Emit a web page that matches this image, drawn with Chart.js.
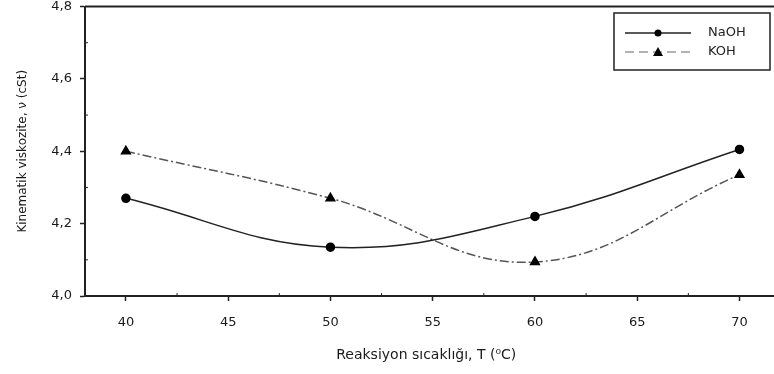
<!DOCTYPE html>
<html lang="tr">
<head>
  <meta charset="UTF-8" />
  <title>Kinematik viskozite</title>
  <script src="https://cdn.jsdelivr.net/npm/chart.js"></script>
  <style>
    html, body { margin: 0; padding: 0; background: #fff; }
    .chart-box { width: 774px; height: 374px; position: relative; }
  </style>
</head>
<body>
  <div class="chart-box">
    <canvas id="viscChart"></canvas>
  </div>

  <script>
    // data
    const temperatures = [40, 50, 60, 70];
    const naohValues = [4.27, 4.135, 4.22, 4.405];
    const kohValues = [4.40, 4.27, 4.094, 4.335];
    const seriesNames = ['NaOH', 'KOH'];
    const xTicks = [40, 45, 50, 55, 60, 65, 70];
    const xTitle = 'Reaksiyon sıcaklığı, T (⁰C)';
    const yTitle = 'Kinematik viskozite, ν (cSt)';

    const FONT = 'DejaVu Sans, Verdana, sans-serif';

    const comma = v => v.toFixed(1).replace('.', ',');

    // top frame line, axis run-out, inward minor ticks and the boxed legend
    const extras = {
      id: 'extras',
      afterDraw(chart) {
        const ctx = chart.ctx;
        const area = chart.chartArea;
        const xs = chart.scales.x, ys = chart.scales.y;
        ctx.save();
        ctx.strokeStyle = '#222';
        ctx.lineWidth = 2;
        ctx.beginPath();
        ctx.moveTo(area.left, area.top);
        ctx.lineTo(chart.width, area.top);
        ctx.moveTo(area.right - 1, area.bottom);
        ctx.lineTo(chart.width, area.bottom);
        ctx.stroke();

        ctx.lineWidth = 1;
        ctx.beginPath();
        for (let v = 42.5; v < 72; v += 5) {
          const px = xs.getPixelForValue(v);
          ctx.moveTo(px, area.bottom + 1);
          ctx.lineTo(px, area.bottom - 3);
        }
        for (let v = 4.1; v < 4.8; v += 0.2) {
          const py = ys.getPixelForValue(v);
          ctx.moveTo(area.left, py);
          ctx.lineTo(area.left + 3, py);
        }
        ctx.stroke();

        // legend
        const bx = 614, by = 13, bw = 156, bh = 57;
        ctx.lineWidth = 1.5;
        ctx.strokeStyle = '#222';
        ctx.strokeRect(bx, by, bw, bh);
        ctx.font = '13px ' + FONT;
        ctx.textBaseline = 'middle';
        chart.data.datasets.forEach((ds, i) => {
          const ly = by + 20 + i * 19;
          ctx.strokeStyle = i === 0 ? '#222' : '#999';
          ctx.lineWidth = ds.borderWidth;
          ctx.setLineDash(i === 0 ? [] : [9, 5]);
          ctx.beginPath();
          ctx.moveTo(bx + 11, ly);
          ctx.lineTo(bx + 77, ly);
          ctx.stroke();
          ctx.setLineDash([]);
          ctx.fillStyle = '#000';
          if (ds.pointStyle === 'triangle') {
            ctx.beginPath();
            ctx.moveTo(bx + 44, ly - 5);
            ctx.lineTo(bx + 49, ly + 4);
            ctx.lineTo(bx + 39, ly + 4);
            ctx.closePath();
            ctx.fill();
          } else {
            ctx.beginPath();
            ctx.arc(bx + 44, ly, 3.5, 0, Math.PI * 2);
            ctx.fill();
          }
          ctx.fillStyle = '#222';
          ctx.fillText(ds.label, bx + 94, ly);
        });
        ctx.restore();
      }
    };

    new Chart(document.getElementById('viscChart'), {
      type: 'line',
      data: {
        datasets: [{
          label: seriesNames[0],
          data: temperatures.map((t, i) => ({ x: t, y: naohValues[i] })),
          borderColor: '#222',
          borderWidth: 1.5,
          pointStyle: 'circle',
          pointRadius: 4,
          pointBackgroundColor: '#000',
          pointBorderColor: '#000',
          tension: 0.4
        }, {
          label: seriesNames[1],
          data: temperatures.map((t, i) => ({ x: t, y: kohValues[i] })),
          borderColor: '#555',
          borderWidth: 1.5,
          borderDash: [9, 3, 2, 3],
          pointStyle: 'triangle',
          pointRadius: 5,
          pointBackgroundColor: '#000',
          pointBorderColor: '#000',
          tension: 0.4
        }]
      },
      options: {
        responsive: true,
        maintainAspectRatio: false,
        animation: false,
        layout: { padding: 0 },
        plugins: { legend: { display: false }, tooltip: { enabled: false } },
        scales: {
          x: {
            type: 'linear',
            min: 38,
            max: 71.37,
            afterBuildTicks: s => { s.ticks = xTicks.map(v => ({ value: v })); },
            afterFit: s => { s.height = 78; s.paddingLeft = 0; s.paddingRight = 0; },
            ticks: { color: '#1a1a1a', font: { family: FONT, size: 13 }, padding: 14, maxRotation: 0 },
            grid: { drawOnChartArea: false, tickLength: 5, tickColor: '#222', tickWidth: 1.5 },
            border: { color: '#222', width: 2 },
            title: { display: true, text: xTitle, color: '#1a1a1a', font: { family: FONT, size: 14 }, padding: { top: 4, bottom: 10 } }
          },
          y: {
            min: 4.0,
            max: 4.8,
            afterFit: s => { s.width = 85; s.paddingTop = 0; s.paddingBottom = 0; },
            ticks: { stepSize: 0.2, color: '#1a1a1a', font: { family: FONT, size: 13 }, padding: 8, callback: v => comma(v) },
            grid: { drawOnChartArea: false, tickLength: 5, tickColor: '#222', tickWidth: 1.5 },
            border: { color: '#222', width: 2 },
            title: { display: true, text: yTitle, color: '#1a1a1a', font: { family: FONT, size: 12 }, padding: { top: 16, bottom: 0 } }
          }
        }
      },
      plugins: [extras]
    });
  </script>
</body>
</html>
